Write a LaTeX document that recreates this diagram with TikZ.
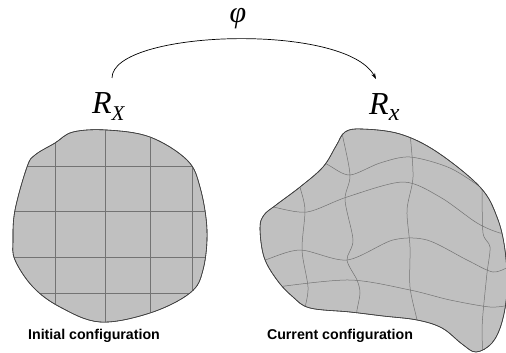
\documentclass[tikz,border=0pt]{standalone}
\usepackage{fontspec}
\setmainfont{Liberation Serif}
\newfontfamily\labfont{Liberation Sans}
\usetikzlibrary{arrows.meta,calc}
\begin{document}
\begin{tikzpicture}[x=1pt,y=-1pt,
  blob/.style={fill=blobgray,draw=black!75,line width=0.6pt},
  gridl/.style={draw=black!55,line width=0.5pt},
  caption/.style={font=\labfont\bfseries\fontsize{14.2}{16}\selectfont,inner sep=0pt},
  symb/.style={font=\fontsize{32}{36}\selectfont,inner sep=0pt},
]
\definecolor{blobgray}{RGB}{192,192,192}
\useasboundingbox (0,0) rectangle (506,353);
% left blob
\def\leftblob{plot[smooth cycle,tension=0.6] coordinates {(107,130) (150,137) (187,160) (200,187) (207,230) (203,270) (190,293) (150,313) (100,322) (60,307) (33,287) (15,260) (13,240) (15,210) (27,167) (35,155) (55,143) (73,132)}}
\path[blob] \leftblob;
\begin{scope}
\clip \leftblob;
\foreach \xx in {55,105,150,192} \draw[gridl] (\xx,110) -- (\xx,330);
\foreach \yy in {166,211,257,293} \draw[gridl] (0,\yy) -- (215,\yy);
\end{scope}
\draw[draw=black!75,line width=0.6pt] \leftblob;
% right blob
\def\rightblob{plot[smooth cycle,tension=0.6] coordinates {(345,132) (362,129) (400,134) (437,152) (480,187) (497,217) (505,250) (507,290) (502,322) (492,343) (476,352) (462,344) (442,328) (417,320) (383,316) (350,312) (310,308) (293,297) (277,280) (264,257) (260,228) (264,215) (276,205) (300,187) (323,167) (336,146)}}
\path[blob] \rightblob;
\begin{scope}
\clip \rightblob;
\draw[gridl] plot[smooth] coordinates {(318,158) (330,166) (350,175) (380,163) (410,157) (450,168) (485,190) (500,200)};
\draw[gridl] plot[smooth] coordinates {(262,205) (273,207) (307,212) (347,197) (403,182) (440,197) (477,223) (500,233) (510,232)};
\draw[gridl] plot[smooth] coordinates {(255,262) (265,260) (300,250) (347,260) (393,240) (427,240) (467,260) (493,272) (510,266)};
\draw[gridl] plot[smooth] coordinates {(265,290) (277,287) (350,280) (410,290) (450,300) (490,307) (510,305)};
\draw[gridl] plot[smooth] coordinates {(341,125) (342,133) (350,175) (345,200) (353,240) (347,260) (357,280) (360,293) (357,310) (356,320)};
\draw[gridl] plot[smooth] coordinates {(409,125) (410,133) (413,177) (407,210) (410,247) (410,287) (417,320) (418,330)};
\draw[gridl] plot[smooth] coordinates {(299,180) (300,187) (305,210) (302,250) (308,287) (305,308) (304,315)};
\draw[gridl] plot[smooth] coordinates {(480,180) (482,190) (483,233) (490,247) (487,273) (483,313) (482,333) (483,355)};
\end{scope}
\draw[draw=black!75,line width=0.6pt] \rightblob;
% labels
\node[symb,anchor=base west] (RX) at (92,113) {\itshape R\raisebox{-7pt}{\fontsize{21}{24}\selectfont X}};
\node[symb,anchor=base west] (Rx) at (369,114) {\itshape R\raisebox{-6pt}{\fontsize{24}{26}\selectfont x}};
\node[symb,anchor=base,font=\fontsize{30}{34}\selectfont,text height=14pt,text depth=6pt] (phi) at (238,23) {\itshape φ};
\coordinate (arrS) at ($(RX.base west)+(20,-35)$);
\coordinate (arrE) at ($(Rx.base west)+(7,-35)$);
\draw[line width=0.7pt,-{Stealth[length=6pt,width=4pt]}] (arrS) .. controls ($(arrS)+(0,-48)$) and ($(arrE)+(-31,-57)$) .. (arrE);
\node[caption] (cap1) at (94,336) {Initial configuration};
\node[caption] (cap2) at (340,336) {Current configuration};
\end{tikzpicture}
\end{document}
